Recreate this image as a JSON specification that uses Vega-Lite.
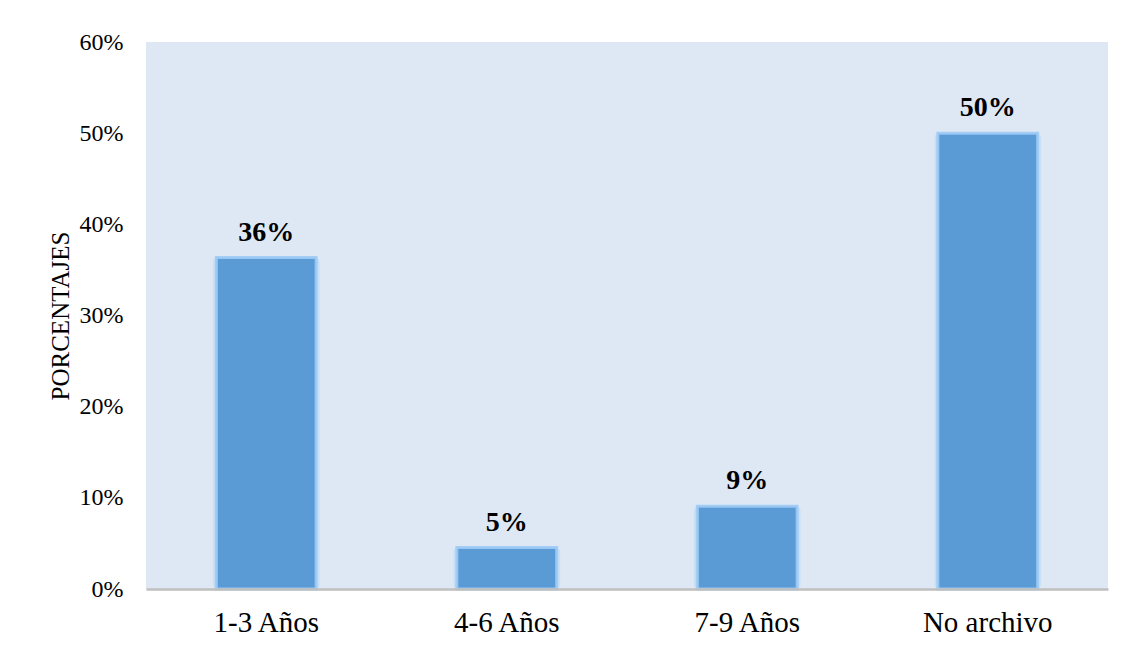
{
  "$schema": "https://vega.github.io/schema/vega-lite/v6.json",
  "autosize": "none",
  "width": 962,
  "height": 547,
  "padding": {"left": 146, "top": 42, "right": 18, "bottom": 59},
  "background": "white",
  "config": {
    "view": {"fill": "#dee8f4", "stroke": null},
    "font": "Liberation Serif"
  },
  "data": {
    "values": [
      {"categoria": "1-3 Años", "porcentaje": 0.3636},
      {"categoria": "4-6 Años", "porcentaje": 0.0455},
      {"categoria": "7-9 Años", "porcentaje": 0.0909},
      {"categoria": "No archivo", "porcentaje": 0.5}
    ]
  },
  "encoding": {
    "x": {
      "field": "categoria",
      "type": "nominal",
      "sort": null,
      "scale": {"paddingInner": 0, "paddingOuter": 0},
      "axis": {
        "title": null,
        "labelAngle": 0,
        "labelFont": "Liberation Serif",
        "labelFontSize": 29,
        "labelColor": "#000000",
        "labelPadding": 19,
        "ticks": false,
        "domainColor": "#bfbfbf",
        "domainWidth": 2.5,
        "zindex": 1
      }
    },
    "y": {
      "field": "porcentaje",
      "type": "quantitative",
      "scale": {"domain": [0, 0.6], "nice": false},
      "axis": {
        "title": "PORCENTAJES",
        "titleFont": "Liberation Serif",
        "titleFontSize": 25,
        "titleFontWeight": "normal",
        "titleColor": "#000000",
        "titlePadding": 6,
        "values": [0, 0.1, 0.2, 0.3, 0.4, 0.5, 0.6],
        "format": ".0%",
        "labelFont": "Liberation Serif",
        "labelFontSize": 24,
        "labelColor": "#000000",
        "labelPadding": 23,
        "ticks": false,
        "domain": false,
        "grid": false
      }
    }
  },
  "layer": [
    {
      "mark": {
        "type": "bar",
        "width": {"band": 0.445},
        "color": "#a9d2f7",
        "opacity": 0.4,
        "cornerRadius": 5
      },
      "encoding": {}
    },
    {
      "mark": {
        "type": "bar",
        "width": {"band": 0.415},
        "fill": "#5b9bd5",
        "stroke": "#9dcbf5",
        "strokeWidth": 3,
        "strokeOpacity": 0.9
      },
      "encoding": {}
    },
    {
      "mark": {
        "type": "text",
        "baseline": "alphabetic",
        "dy": -17,
        "font": "Liberation Serif",
        "fontSize": 28,
        "fontWeight": "bold",
        "color": "#000000"
      },
      "encoding": {
        "text": {"field": "porcentaje", "type": "quantitative", "format": ".0%"}
      }
    }
  ]
}
